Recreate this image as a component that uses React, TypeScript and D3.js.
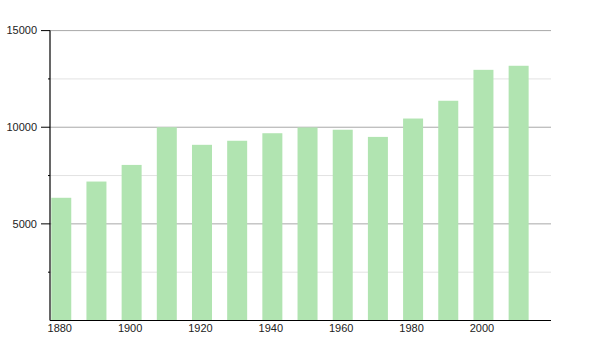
import React from "react";
import * as d3 from "d3";

const years = [1880, 1890, 1900, 1910, 1920, 1930, 1940, 1950, 1960, 1970, 1980, 1990, 2000, 2010];
const population = [6350, 7190, 8050, 10000, 9090, 9300, 9690, 9990, 9870, 9500, 10450, 11370, 12970, 13180];
const yMajorTicks = [5000, 10000, 15000];
const yMinorTicks = [2500, 7500, 12500];
const xTickLabels = [1880, 1900, 1920, 1940, 1960, 1980, 2000];

const W = 600;
const H = 350;
const left = 50;
const right = 551;
const top = 30.6;
const bottom = 320.5;
const barW = 20;

export default function App() {
  const x = d3.scaleLinear().domain([1876.8, 2019.2]).range([left, right]);
  const y = d3.scaleLinear().domain([0, 15000]).range([bottom, top]);
  const font = "'Liberation Sans', Arial, sans-serif";
  return (
    <svg width={W} height={H} style={{ position: "absolute", left: 0, top: 0, background: "#fff" }}>
      {yMinorTicks.map((t) => (
        <g key={"mi" + t}>
          <line x1={left} x2={right} y1={y(t)} y2={y(t)} stroke="#e2e2e2" strokeWidth={1} />
          <line x1={left - 2} x2={left} y1={y(t)} y2={y(t)} stroke="#000" strokeWidth={1} />
        </g>
      ))}
      {yMajorTicks.map((t) => (
        <g key={"ma" + t}>
          <line x1={left} x2={right} y1={y(t)} y2={y(t)} stroke="#a8a8a8" strokeWidth={1} />
          <line x1={left - 9} x2={left} y1={y(t)} y2={y(t)} stroke="#000" strokeWidth={1} />
          <text x={37} y={y(t)} dy="0.35em" textAnchor="end" fontFamily={font} fontSize={11} fill="#222">
            {t}
          </text>
        </g>
      ))}
      {years.map((yr, i) => (
        <rect
          key={yr}
          x={x(yr) - barW / 2}
          y={y(population[i])}
          width={barW}
          height={bottom - y(population[i])}
          fill="#b1e4b1"
        />
      ))}
      <line x1={left} x2={left} y1={top} y2={bottom} stroke="#000" strokeWidth={1.2} />
      <line x1={left} x2={right} y1={bottom} y2={bottom} stroke="#000" strokeWidth={1.2} />
      {xTickLabels.map((t) => (
        <text key={"x" + t} x={x(t) - 1.5} y={332} textAnchor="middle" fontFamily={font} fontSize={11} fill="#222">
          {t}
        </text>
      ))}
    </svg>
  );
}
